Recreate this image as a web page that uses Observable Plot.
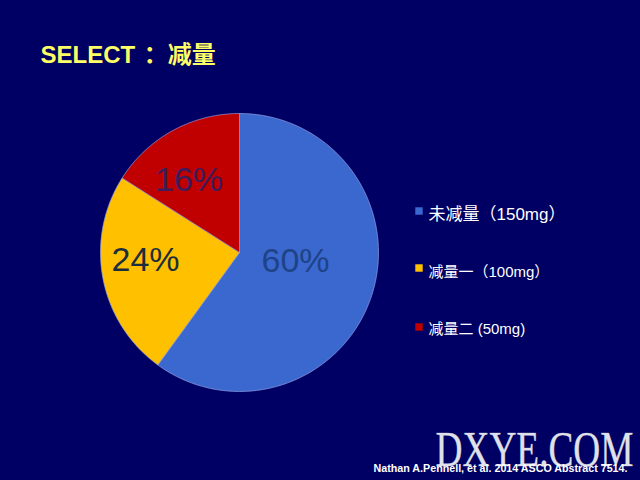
<!DOCTYPE html>
<html><head><meta charset="utf-8">
<script src="https://cdn.jsdelivr.net/npm/d3@7"></script>
<script src="https://cdn.jsdelivr.net/npm/@observablehq/plot@0.6"></script>
<style>html,body{margin:0;padding:0;background:#000064;overflow:hidden;}</style>
</head><body><div id="chart"></div>
<script>
// ---- data ----
const categories = ["未减量（150mg）", "减量一（100mg）", "减量二 (50mg)"];
const shares = [60, 24, 16];
const sliceLabels = ["60%", "24%", "16%"];
const titleText = "SELECT ：减量";
const sourceText = "Nathan A.Pennell, et al. 2014 ASCO Abstract 7514.";
const watermarkText = "DXYE.COM";

// ---- styles / layout ----
const bg = "#000064";
const colors = ["#3A68CF", "#FFC000", "#C00000"];
const labelColors = ["#1E4386", "#1C2E3E", "#3E1C5C"];
const labelPos = [[0.403, -0.061], [-0.676, -0.058], [-0.363, 0.518]];
const legendRows = [{dy: 213.6, fs: 17, sq: 210.5}, {dy: 271.2, fs: 15, sq: 267.5}, {dy: 328.2, fs: 15, sq: 326.5}];
const cx = 239, cy = 252, R = 139;
const sans = "'Liberation Sans', Arial, 'Noto Sans CJK SC', sans-serif";

// slice outlines from shares (clockwise from 12 o'clock)
const total = d3.sum(shares);
let acc = 0;
const slices = shares.map((v, i) => {
  const a0 = acc / total * 2 * Math.PI; acc += v;
  const a1 = acc / total * 2 * Math.PI;
  const pts = [{x: 0, y: 0}];
  const n = Math.max(2, Math.ceil((a1 - a0) / (Math.PI / 180)));
  for (let k = 0; k <= n; k++) {
    const a = a0 + (a1 - a0) * k / n;
    pts.push({x: Math.sin(a), y: Math.cos(a)});
  }
  pts.push({x: 0, y: 0});
  return pts;
});

const T = {frameAnchor: "top-left", lineAnchor: "middle", textAnchor: "start", text: d => d};
const marks = [];
// watermark (behind)
marks.push(Plot.text([watermarkText], {...T, dx: 435, dy: 449,
  fontSize: 50, fontFamily: "'Liberation Serif', 'DejaVu Serif', serif",
  fill: "#dfe0ea", stroke: "#8a8ca8", strokeWidth: 0.6}));
// slices
slices.forEach((pts, i) => {
  marks.push(Plot.line(pts, {x: "x", y: "y", fill: colors[i], stroke: "#9aa6e8", strokeWidth: 0.8, strokeOpacity: 0.8, curve: "linear"}));
});
// slice labels
marks.push(Plot.text(sliceLabels.map((t, i) => ({t, x: labelPos[i][0], y: labelPos[i][1], c: labelColors[i]})),
  {x: "x", y: "y", text: "t", fill: "c", fontSize: 34, fontFamily: sans}));
// title
marks.push(Plot.text([titleText], {...T, text: d => d.replace(" ", "\u00a0\u200a"), dx: 40, dy: 55.3,
  fontSize: 24, fontWeight: "bold", fill: "#FFFF66", fontFamily: sans}));
// legend
categories.forEach((c, i) => {
  const r = legendRows[i];
  marks.push(Plot.dot([c], {frameAnchor: "top-left", dx: 418.5, dy: r.sq, symbol: "square", r: 4.2, fill: colors[i], stroke: null}));
  marks.push(Plot.text([c], {...T, dx: 428, dy: r.dy, fontSize: r.fs, fill: "#ffffff", fontFamily: sans}));
});
// source
marks.push(Plot.text([sourceText], {...T, dx: 373, dy: 467.5,
  fontSize: 11, fontWeight: "bold", fill: "#ffffff", fontFamily: sans}));

const chart = Plot.plot({
  width: 640, height: 480, margin: 0,
  style: {background: bg, color: "white"},
  x: {domain: [-1, 1], range: [cx - R, cx + R], axis: null},
  y: {domain: [-1, 1], range: [cy + R, cy - R], axis: null},
  color: {type: "identity"},
  marks
});
document.getElementById("chart").appendChild(chart);

// fit stretched texts to the reference widths
d3.select(chart).selectAll("text").each(function () {
  const t = this.textContent;
  if (t === watermarkText) { this.setAttribute("textLength", 198); this.setAttribute("lengthAdjust", "spacingAndGlyphs"); }
  if (t === sourceText) { this.setAttribute("textLength", 254); this.setAttribute("lengthAdjust", "spacingAndGlyphs"); }
});
</script>
</body></html>
